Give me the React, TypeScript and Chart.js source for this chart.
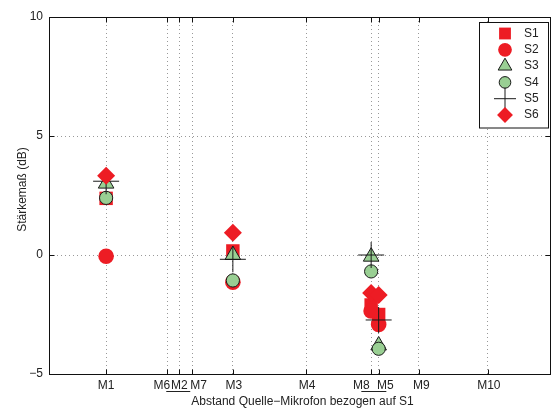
import React, { useEffect, useRef } from 'react';
import { Chart, registerables } from 'chart.js';

Chart.register(...registerables);

// ---- data ----
const tickLabels = ['M1', 'M6', 'M2', 'M7', 'M3', 'M4', 'M8', 'M5', 'M9', 'M10'];
const tickPositions = [1.14, 2.36, 2.6, 2.86, 3.67, 5.13, 6.43, 6.58, 7.38, 8.76];
const measuredAt = ['M1', 'M3', 'M8', 'M5'];
const seriesNames = ['S1', 'S2', 'S3', 'S4', 'S5', 'S6'];
const s1 = [2.38, 0.17, -2.1, -2.5];
const s2 = [-0.05, -1.14, -2.35, -2.92];
const s3 = [3.0, 0.0, -0.07, -3.8];
const s4 = [2.4, -1.07, -0.69, -3.94];
const s5 = [3.1, -0.18, 0.0, -2.73];
const s6 = [3.33, 0.94, -1.6, -1.68];
const yTicks = [-5, 0, 5, 10];
const xTitle = 'Abstand Quelle\u2212Mikrofon bezogen auf S1';
const yTitle = 'Stärkemaß (dB)';

const seriesValues = [s1, s2, s3, s4, s5, s6];

// ---- styles ----
const RED = '#ED1C24';
const GREEN = '#99CF93';
const EDGE = '#1a1a1a';
const TEXT = '#222';
const FONT = '"Liberation Sans", Arial, Helvetica, sans-serif';
const markerStyles = [
  { style: 'rect', r: 9.5, fill: RED, stroke: RED, bw: 0 },
  { style: 'circle', r: 7.8, fill: RED, stroke: RED, bw: 0 },
  { style: 'triangle', r: 9, fill: GREEN, stroke: EDGE, bw: 1 },
  { style: 'circle', r: 6.6, fill: GREEN, stroke: EDGE, bw: 1 },
  { style: 'cross', r: 13, fill: 'rgba(0,0,0,0)', stroke: EDGE, bw: 1 },
  { style: 'rectRot', r: 9, fill: RED, stroke: RED, bw: 0 },
];
// pixel nudges of the x labels (layout only)
const labelNudge: Record<string, number> = { M6: -5.4, M7: 6.2, M8: -9.8, M5: 6.7, M9: 2.5, M3: 1, M4: 1, M10: 1 };

function drawMarker(ctx: CanvasRenderingContext2D, style: string, x: number, y: number, r: number, fill: string, stroke: string, bw: number) {
  ctx.save();
  ctx.beginPath();
  if (style === 'rect') {
    const s = Math.SQRT1_2 * r;
    ctx.rect(x - s, y - s, 2 * s, 2 * s);
  } else if (style === 'circle') {
    ctx.arc(x, y, r, 0, Math.PI * 2);
  } else if (style === 'triangle') {
    ctx.moveTo(x, y - r);
    ctx.lineTo(x + r * Math.sin(Math.PI / 3), y + r / 2);
    ctx.lineTo(x - r * Math.sin(Math.PI / 3), y + r / 2);
    ctx.closePath();
  } else if (style === 'rectRot') {
    ctx.moveTo(x, y - r);
    ctx.lineTo(x + r, y);
    ctx.lineTo(x, y + r);
    ctx.lineTo(x - r, y);
    ctx.closePath();
  }
  if (style === 'cross') {
    ctx.moveTo(x - r, y);
    ctx.lineTo(x + r, y);
    ctx.moveTo(x, y - r);
    ctx.lineTo(x, y + r);
    ctx.lineWidth = bw;
    ctx.strokeStyle = stroke;
    ctx.stroke();
  } else {
    ctx.fillStyle = fill;
    ctx.fill();
    if (bw > 0) {
      ctx.lineWidth = bw;
      ctx.strokeStyle = stroke;
      ctx.stroke();
    }
  }
  ctx.restore();
}

const framePlugin = {
  id: 'matlabFrame',
  afterDraw(chart: any) {
    const ctx: CanvasRenderingContext2D = chart.ctx;
    const { left, right, top, bottom } = chart.chartArea;
    const xs = chart.scales.x;
    const ys = chart.scales.y;
    ctx.save();
    // frame
    ctx.strokeStyle = '#111';
    ctx.lineWidth = 1;
    const L = Math.round(left) + 0.5;
    const T = Math.round(top) + 0.5;
    const R = Math.round(right) + 0.5;
    const B = Math.round(bottom) + 0.5;
    ctx.strokeRect(L, T, R - L, B - T);
    // inward ticks
    ctx.beginPath();
    tickPositions.forEach((v) => {
      const px = Math.round(xs.getPixelForValue(v)) + 0.5;
      ctx.moveTo(px, B);
      ctx.lineTo(px, B - 5);
      ctx.moveTo(px, T);
      ctx.lineTo(px, T + 5);
    });
    yTicks.forEach((v) => {
      const py = Math.round(ys.getPixelForValue(v)) + 0.5;
      ctx.moveTo(L, py);
      ctx.lineTo(L + 5, py);
      ctx.moveTo(R, py);
      ctx.lineTo(R - 5, py);
    });
    ctx.stroke();

    // x labels
    ctx.fillStyle = TEXT;
    ctx.font = `12px ${FONT}`;
    ctx.textAlign = 'center';
    ctx.textBaseline = 'middle';
    const centers: Record<string, number> = {};
    tickLabels.forEach((lab, i) => {
      const cx = xs.getPixelForValue(tickPositions[i]) + (labelNudge[lab] || 0);
      centers[lab] = cx;
      ctx.fillText(lab, cx, bottom + 12);
    });
    // underlines
    ctx.strokeStyle = TEXT;
    ctx.beginPath();
    const uy = Math.round(bottom + 17) + 0.5;
    ctx.moveTo(centers['M2'] - 13, uy);
    ctx.lineTo(centers['M2'] + 11, uy);
    ctx.moveTo(centers['M8'], uy);
    ctx.lineTo(centers['M5'] + 1, uy);
    ctx.stroke();

    // axis titles
    ctx.fillText(xTitle, (left + right) / 2 + 3, bottom + 28);
    ctx.save();
    ctx.translate(23, (top + bottom) / 2 - 6);
    ctx.rotate(-Math.PI / 2);
    ctx.fillText(yTitle, 0, 0);
    ctx.restore();

    // legend
    const bx = 479.5, by = 22.5, bw = 69, bh = 105.5;
    ctx.fillStyle = '#fff';
    ctx.fillRect(bx, by, bw, bh);
    ctx.strokeStyle = '#111';
    ctx.strokeRect(bx, by, bw, bh);
    seriesNames.forEach((name, i) => {
      const ry = 33.5 + i * 16.3;
      const m = markerStyles[i];
      const r = m.style === 'cross' ? 11 : m.r * 0.88;
      drawMarker(ctx, m.style, 505, ry, r, m.fill, m.stroke, m.bw);
    });
    ctx.fillStyle = TEXT;
    ctx.textAlign = 'left';
    seriesNames.forEach((name, i) => {
      const ry = 33.5 + i * 16.3;
      ctx.fillText(name, 524, ry);
    });
    ctx.restore();
  },
};

export default function App() {
  const ref = useRef<HTMLCanvasElement | null>(null);
  useEffect(() => {
    if (!ref.current) return;
    Chart.defaults.font.family = FONT;
    Chart.defaults.font.size = 12;
    const gridColor = 'rgba(0,0,0,0.4)';
    const datasets = seriesNames.map((name, i) => {
      const m = markerStyles[i];
      return {
        label: name,
        data: measuredAt.map((lab, j) => ({ x: tickPositions[tickLabels.indexOf(lab)], y: seriesValues[i][j] })),
        pointStyle: m.style,
        pointRadius: m.r,
        pointHoverRadius: m.r,
        backgroundColor: m.fill,
        borderColor: m.stroke,
        borderWidth: m.bw,
        showLine: false,
        order: 6 - i,
      };
    });
    const chart = new Chart(ref.current, {
      type: 'scatter',
      data: { datasets: datasets as any },
      options: {
        animation: false,
        responsive: false,
        events: [],
        layout: { autoPadding: false, padding: { top: 17, right: 1, left: 0, bottom: 0 } },
        plugins: { legend: { display: false }, tooltip: { enabled: false } },
        scales: {
          x: {
            type: 'linear',
            min: 0,
            max: 10,
            afterBuildTicks: (s: any) => {
              s.ticks = tickPositions.map((v) => ({ value: v }));
            },
            afterFit: (s: any) => {
              s.height = 36;
            },
            ticks: { display: false },
            grid: { color: gridColor, lineWidth: 1, drawTicks: false },
            border: { display: false, dash: [1, 3] },
            title: { display: false, text: xTitle },
          },
          y: {
            type: 'linear',
            min: -5,
            max: 10,
            afterBuildTicks: (s: any) => {
              s.ticks = yTicks.map((v) => ({ value: v }));
            },
            afterFit: (s: any) => {
              s.width = 49;
            },
            ticks: {
              padding: 6,
              color: TEXT,
              font: { size: 12 },
              callback: (v: any) => (v < 0 ? '\u2212' + Math.abs(v) : String(v)),
            },
            grid: { color: gridColor, lineWidth: 1, drawTicks: false },
            border: { display: false, dash: [1, 3] },
            title: { display: false, text: yTitle },
          },
        },
      },
      plugins: [framePlugin],
    });
    return () => chart.destroy();
  }, []);
  return (
    <div style={{ position: 'fixed', left: 0, top: 0, width: 551, height: 410, background: '#fff' }}>
      <canvas ref={ref} width={551} height={410} style={{ display: 'block' }} />
    </div>
  );
}
